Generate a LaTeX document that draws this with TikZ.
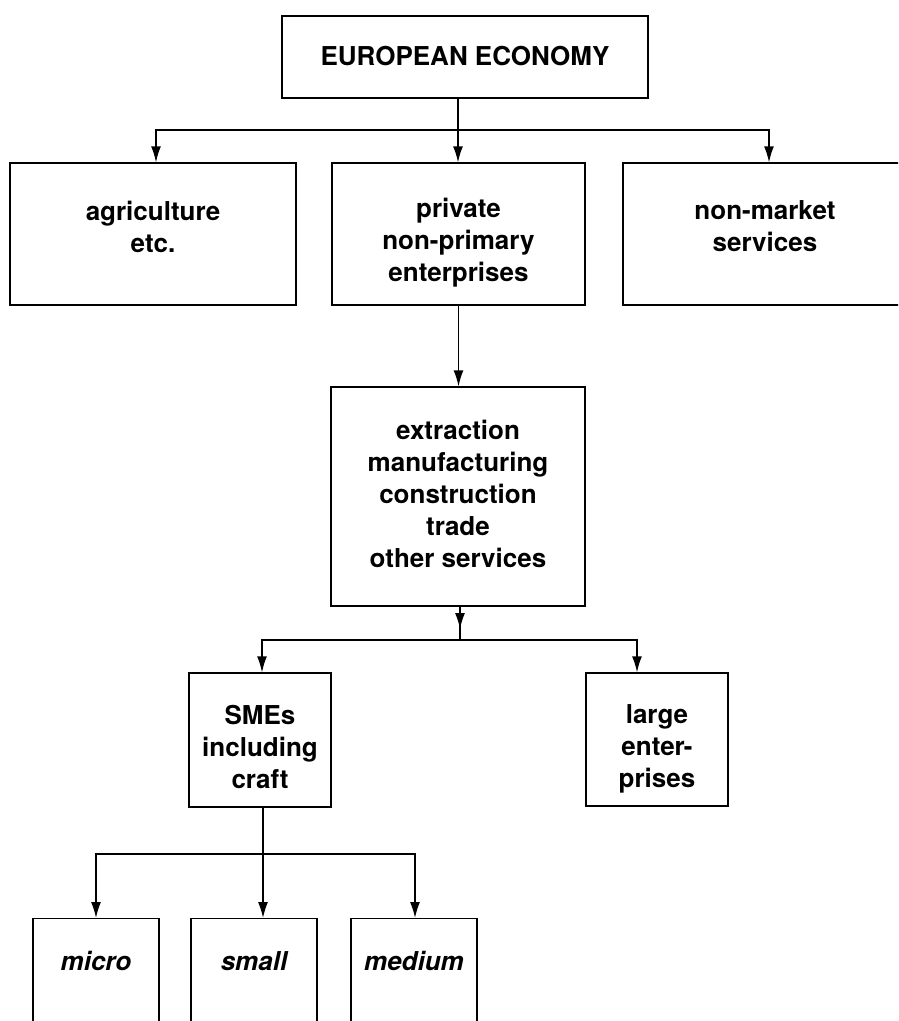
\documentclass[tikz,border=0pt]{standalone}
\usepackage{fontspec}
\setmainfont{TeX Gyre Heros}
\usetikzlibrary{arrows.meta,calc}
\begin{document}
\begin{tikzpicture}[x=1pt,y=-1pt,
  box/.style={draw,line width=1.4pt,inner sep=0pt},
  txt/.style={inner sep=0pt,align=center,font=\fontsize{26}{32}\selectfont\bfseries},
  lowbox/.style={box,anchor=north,minimum width=126pt,text height=20pt,text depth=100pt,inner ysep=32pt,
    align=center,font=\fontsize{26}{32}\selectfont\bfseries\itshape},
  conn/.style={line width=1.4pt},
  arr/.style={conn,-{Latex[length=16pt,width=10pt]}}]
\useasboundingbox (0,0) rectangle (898,1021);
\clip (0,0) rectangle (898,1021);
% boxes
\node[box,minimum width=366pt,minimum height=82pt] (top) at (465,57) {};
\node[txt] (topt) at ([yshift=1pt]top.center) {EUROPEAN ECONOMY};
\node[box,minimum width=286pt,minimum height=142pt] (agri) at (153,234) {};
\node[txt] (agrit) at ([yshift=7pt]agri.center) {agriculture\\etc.};
\node[box,minimum width=253pt,minimum height=142pt] (priv) at (458.5,234) {};
\node[txt] (privt) at ([yshift=-9pt]priv.center) {private\\non-primary\\enterprises};
\node[box,minimum width=284pt,minimum height=142pt] (nonm) at (765,234) {};
\node[txt] (nonmt) at ([yshift=8pt]nonm.center) {non-market\\services};
\node[box,minimum width=254pt,minimum height=219pt] (ext) at (458,496.5) {};
\node[txt] (extt) at ([yshift=3pt]ext.center) {extraction\\manufacturing\\construction\\trade\\other services};
\node[box,minimum width=142pt,minimum height=134pt] (sme) at (260,740) {};
\node[txt] (smet) at ([yshift=-7pt]sme.center) {SMEs\\including\\craft};
\node[box,minimum width=142pt,minimum height=133pt] (large) at (657,739.5) {};
\node[txt] (larget) at ([yshift=-9pt]large.center) {large\\enter-\\prises};
\node[lowbox] (micro) at (96,918) {micro};
\node[lowbox] (small) at (254,918) {small};
\node[lowbox] (medium) at (414,918) {medium};
% bus 1
\coordinate (b1) at (458,130);
\coordinate (b1l) at (156,130);
\coordinate (b1r) at (769,130);
\draw[conn] (b1 |- top.south) -- (b1);
\draw[arr] (b1) -- (b1 |- priv.north);
\draw[arr] (b1) -- (b1l) -- (b1l |- agri.north);
\draw[arr] (b1) -- (b1r) -- (b1r |- nonm.north);
% private -> extraction
\draw[arr] (priv.south) -- (priv.south |- ext.north);
% bus 2
\coordinate (b2) at (460,640);
\coordinate (b2l) at (262,640);
\coordinate (b2r) at (637,640);
\coordinate (b2m) at (460,629);
\draw[conn] (b2 |- ext.south) -- (b2);
\draw[arr] (b2 |- ext.south) -- (b2m);
\draw[arr] (b2) -- (b2l) -- (b2l |- sme.north);
\draw[arr] (b2) -- (b2r) -- (b2r |- large.north);
% bus 3
\coordinate (b3) at (263,854);
\coordinate (b3l) at (96,854);
\coordinate (b3r) at (415,854);
\draw[arr] (b3 |- sme.south) -- (b3) -- (b3 |- small.north);
\draw[arr] (b3) -- (b3l) -- (b3l |- micro.north);
\draw[arr] (b3) -- (b3r) -- (b3r |- medium.north);
\end{tikzpicture}
\end{document}
